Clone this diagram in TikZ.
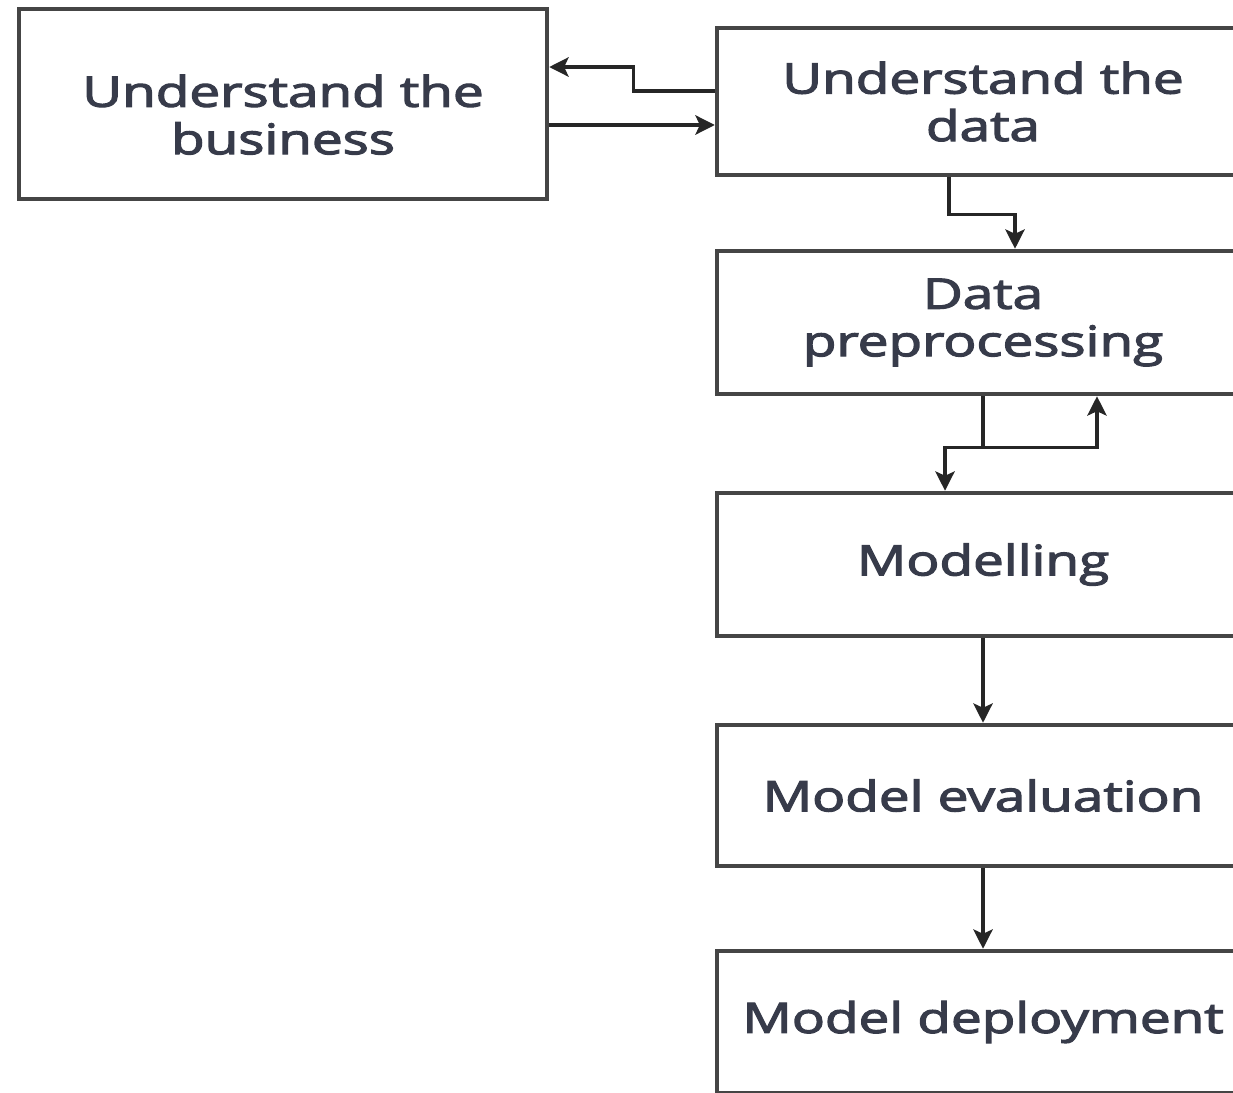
\documentclass[tikz,border=0pt]{standalone}
\usepackage{fontspec}
\setmainfont{Open Sans}
\newfontfamily\boxfont[FakeBold=2.5]{Open Sans}
\usetikzlibrary{arrows.meta}
\definecolor{txt}{HTML}{373B4A}
\definecolor{edge}{HTML}{454545}
\newcommand{\widetxt}[1]{\scalebox{1.3}[1]{#1}}
\tikzset{
  box/.style={draw=edge, line width=2.6pt, rectangle, minimum width=10.64cm, inner sep=0pt, align=center, text=txt, font=\boxfont\fontsize{24}{27}\selectfont},
  arr/.style={draw=black!85, line width=1.9pt, -{Stealth[length=11pt,width=11pt,inset=2.5pt]}},
  ln/.style={draw=black!85, line width=1.9pt}
}
\begin{document}
\begin{tikzpicture}[x=0.02cm,y=-0.02cm]
\useasboundingbox (0,0) rectangle (1233,1092);
\node[box, minimum width=10.56cm, minimum height=3.8cm] (B) at (283,104) {\raisebox{-0.34cm}[\height][\depth]{\begin{tabular}{@{}c@{}}\widetxt{Understand the}\\\widetxt{business}\end{tabular}}};
\node[box, minimum height=2.94cm] (D) at (983,101.5) {\widetxt{Understand the}\\\widetxt{data}};
\node[box, minimum height=2.86cm] (P) at (983,322.5) {\widetxt{Data}\\\widetxt{preprocessing}};
\node[box, minimum height=2.86cm] (M) at (983,564.5) {\widetxt{Modelling}};
\node[box, minimum height=2.82cm] (E) at (983,795.5) {\widetxt{Model evaluation}};
\node[box, minimum height=2.84cm] (Dep) at (983,1022) {\widetxt{Model deployment}};
% D -> B
\draw[arr] ([yshift=0.21cm]D.west) -- ++(-81,0) |- ([yshift=0.74cm]B.east);
% B -> D
\coordinate (b2) at ([yshift=-0.42cm]B.east);
\draw[arr] (b2) -- (b2 -| D.west);
% D -> P
\draw[arr] ([xshift=-0.68cm]D.south) -- ++(0,37) -| ([xshift=0.64cm]P.north);
% P -> M and P -> P
\draw[ln] (P.south) -- ++(0,51) coordinate (j);
\draw[arr] (j) -| ([xshift=-0.76cm]M.north);
\draw[arr] (j) -| ([xshift=2.28cm]P.south);
\draw[arr] (M.south) -- (E.north);
\draw[arr] (E.south) -- (Dep.north);
\end{tikzpicture}
\end{document}
